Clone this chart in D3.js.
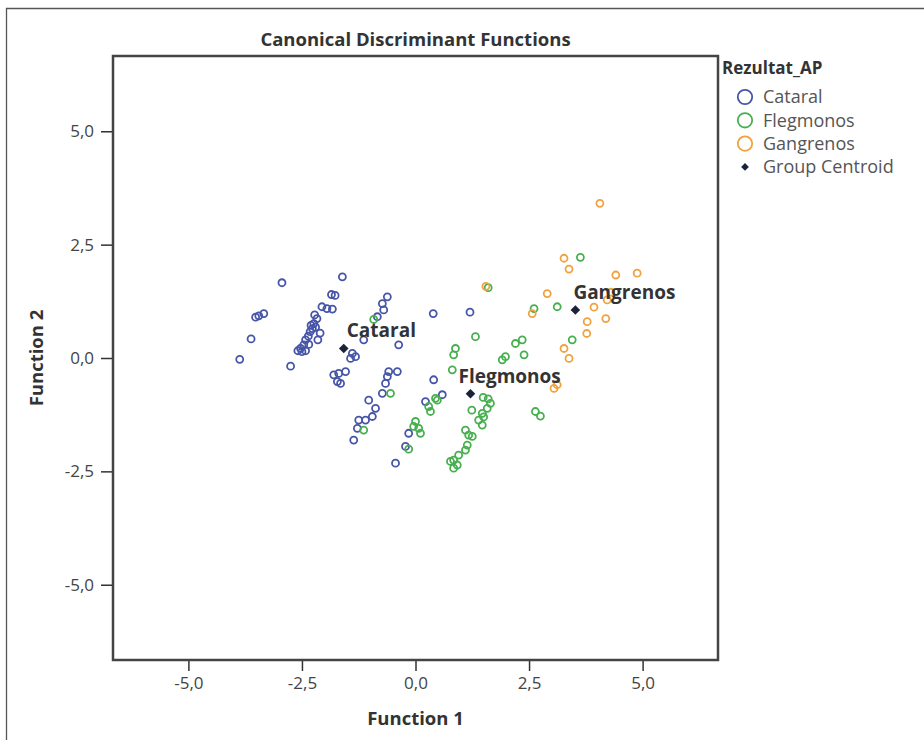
<!DOCTYPE html>
<html>
<head>
<meta charset="utf-8">
<script src="https://cdn.jsdelivr.net/npm/d3@7"></script>
<style>
  html, body { margin: 0; padding: 0; background: #fff; }
  svg { display: block; }
  text { font-family: "Open Sans", "DejaVu Sans", sans-serif; }
</style>
</head>
<body>
<svg id="chart" width="924" height="740"></svg>
<script>
// Canonical discriminant scores (Function 1, Function 2) per group
const catarral = [
  [-3.87,-0.03],[-3.62,0.42],[-3.52,0.90],[-3.45,0.93],[-3.34,0.98],[-2.94,1.66],[-2.75,-0.18],[-1.61,1.79],
  [-2.59,0.16],[-2.53,0.21],[-2.50,0.14],[-2.42,0.16],[-2.46,0.29],[-2.42,0.40],[-2.36,0.48],[-2.32,0.58],
  [-2.27,0.65],[-2.30,0.72],[-2.24,0.76],[-2.17,0.87],[-2.22,0.95],[-2.06,1.13],[-1.95,1.09],[-1.83,1.08],
  [-1.85,1.40],[-1.77,1.38],[-2.15,0.40],[-2.10,0.55],[-2.35,0.30],[-2.20,0.68],
  [-0.73,1.20],[-0.62,1.35],[-0.70,1.06],[-0.84,0.91],[-1.14,0.40],[-0.37,0.29],
  [-1.39,0.10],[-1.32,0.03],[-1.43,-0.01],[-1.80,-0.37],[-1.69,-0.34],[-1.54,-0.30],[-1.72,-0.52],[-1.65,-0.56],
  [-0.59,-0.30],[-0.40,-0.30],[-0.62,-0.41],[-0.66,-0.56],[-0.73,-0.78],
  [-1.03,-0.93],[-0.88,-1.11],[-0.95,-1.29],[-1.10,-1.37],[-1.25,-1.37],[-1.28,-1.55],[-1.36,-1.81],
  [0.40,-0.48],[0.22,-0.96],[0.59,-0.81],[-0.15,-1.66],[-0.22,-1.95],[-0.44,-2.32],[0.39,0.98],[1.20,1.01]
];
const flegmonos = [
  [-0.92,0.85],[-0.55,-0.78],[-1.14,-1.59],[0.29,-1.07],[0.33,-1.18],[0.48,-0.93],[0.44,-0.89],
  [0.00,-1.40],[-0.04,-1.51],[0.07,-1.55],[0.11,-1.66],[-0.15,-2.01],
  [1.32,0.47],[0.88,0.21],[0.84,0.07],[0.81,-0.26],[1.60,1.55],[2.61,1.09],[3.12,1.13],
  [2.35,0.40],[2.20,0.32],[2.39,0.07],[1.98,0.03],[1.91,-0.04],[3.45,0.40],[3.63,2.22],
  [1.49,-0.87],[1.60,-0.90],[1.65,-1.00],[1.58,-1.11],[1.47,-1.22],[1.50,-1.30],[1.39,-1.37],[1.47,-1.48],
  [1.24,-1.15],[1.10,-1.59],[1.17,-1.70],[1.25,-1.73],[1.14,-1.92],[1.10,-2.03],[0.95,-2.14],
  [0.84,-2.25],[0.77,-2.28],[0.92,-2.36],[0.84,-2.43],[2.64,-1.18],[2.75,-1.28]
];
const gangrenos = [
  [1.55,1.58],[4.06,3.41],[3.27,2.20],[3.38,1.96],[4.41,1.83],[4.88,1.87],[2.90,1.42],[2.57,0.98],
  [3.93,1.12],[4.22,1.28],[4.30,1.45],[3.78,0.80],[4.19,0.87],[3.77,0.54],[3.27,0.21],[3.38,-0.01],
  [3.05,-0.67],[3.12,-0.59]
];
const groupNames = ["Cataral", "Flegmonos", "Gangrenos"];
const centroids = [[-1.58,0.21],[1.21,-0.79],[3.52,1.06]];
const tickValues = [-5, -2.5, 0, 2.5, 5];
const tickLabels = ["-5,0", "-2,5", "0,0", "2,5", "5,0"];

const colors = ["#4755a8", "#46b04e", "#f0a23e"];
const groups = [catarral, flegmonos, gangrenos];

const svg = d3.select("#chart");

// outer frame
svg.append("path")
  .attr("d", "M6.5,740 V8.5 H924")
  .attr("fill", "none").attr("stroke", "#555").attr("stroke-width", 1.3);

const plot = { left: 113, top: 56, right: 718, bottom: 660 };
const x = d3.scaleLinear().domain([-6.66, 6.66]).range([plot.left, plot.right]);
const y = d3.scaleLinear().domain([-6.66, 6.66]).range([plot.bottom, plot.top]);

// title
svg.append("text")
  .attr("x", (plot.left + plot.right) / 2).attr("y", 46)
  .attr("text-anchor", "middle")
  .attr("font-size", 18.5).attr("font-weight", "bold").attr("fill", "#333")
  .text("Canonical Discriminant Functions");

// axes
const fmt = d => tickLabels[tickValues.indexOf(d)];
const xAxis = svg.append("g")
  .attr("transform", `translate(0,${plot.bottom})`)
  .call(d3.axisBottom(x).tickValues(tickValues).tickFormat(fmt).tickSize(11).tickPadding(6));
const yAxis = svg.append("g")
  .attr("transform", `translate(${plot.left},0)`)
  .call(d3.axisLeft(y).tickValues(tickValues).tickFormat(fmt).tickSize(12).tickPadding(7));
[xAxis, yAxis].forEach(g => {
  g.select(".domain").remove();
  g.selectAll(".tick line").attr("stroke", "#333").attr("stroke-width", 1.5);
  g.selectAll(".tick text").attr("font-size", 17).attr("fill", "#444")
    .attr("font-family", "'Open Sans', sans-serif");
});

// plot box
svg.append("rect")
  .attr("x", plot.left).attr("y", plot.top)
  .attr("width", plot.right - plot.left).attr("height", plot.bottom - plot.top)
  .attr("fill", "none").attr("stroke", "#444").attr("stroke-width", 2.5);

// axis titles
svg.append("text")
  .attr("x", (plot.left + plot.right) / 2).attr("y", 725)
  .attr("text-anchor", "middle")
  .attr("font-size", 18.5).attr("font-weight", "bold").attr("fill", "#333")
  .text("Function 1");
svg.append("text")
  .attr("transform", `translate(43,${(plot.top + plot.bottom) / 2}) rotate(-90)`)
  .attr("text-anchor", "middle")
  .attr("font-size", 18.5).attr("font-weight", "bold").attr("fill", "#333")
  .text("Function 2");

// points
groups.forEach((pts, i) => {
  svg.append("g")
    .selectAll("circle").data(pts).join("circle")
    .attr("cx", d => x(d[0])).attr("cy", d => y(d[1]))
    .attr("r", 3.5)
    .attr("fill", "none")
    .attr("stroke", colors[i]).attr("stroke-width", 1.8);
});

// group centroids (rotated squares)
const diamond = d3.symbol().type(d3.symbolSquare).size(46);
svg.append("g").selectAll("path").data(centroids).join("path")
  .attr("transform", d => `translate(${x(d[0])},${y(d[1])}) rotate(45)`)
  .attr("d", diamond)
  .attr("fill", "#1b2338");

// centroid labels
const labelDx = [3, -12, -2];
svg.append("g").selectAll("text").data(centroids).join("text")
  .attr("x", (d, i) => x(d[0]) + labelDx[i])
  .attr("y", d => y(d[1]) - 11)
  .attr("font-size", 19).attr("font-weight", "bold").attr("fill", "#333")
  .text((d, i) => groupNames[i]);

// legend
const legend = svg.append("g");
legend.append("text")
  .attr("x", 722).attr("y", 74)
  .attr("font-size", 17).attr("font-weight", "bold").attr("fill", "#333")
  .text("Rezultat_AP");
const legendItems = groupNames.concat(["Group Centroid"]);
legendItems.forEach((name, i) => {
  const cy = 97 + i * 23.3;
  if (i < 3) {
    legend.append("circle")
      .attr("cx", 745).attr("cy", cy).attr("r", 7.2)
      .attr("fill", "none").attr("stroke", colors[i]).attr("stroke-width", 1.8);
  } else {
    legend.append("path")
      .attr("transform", `translate(745,${cy}) rotate(45)`)
      .attr("d", d3.symbol().type(d3.symbolSquare).size(30))
      .attr("fill", "#1b2338");
  }
  legend.append("text")
    .attr("x", 763).attr("y", cy)
    .attr("dy", "0.36em")
    .attr("font-family", "'DejaVu Sans', sans-serif")
    .attr("font-size", 18).attr("fill", "#555")
    .text(name);
});
</script>
</body>
</html>
